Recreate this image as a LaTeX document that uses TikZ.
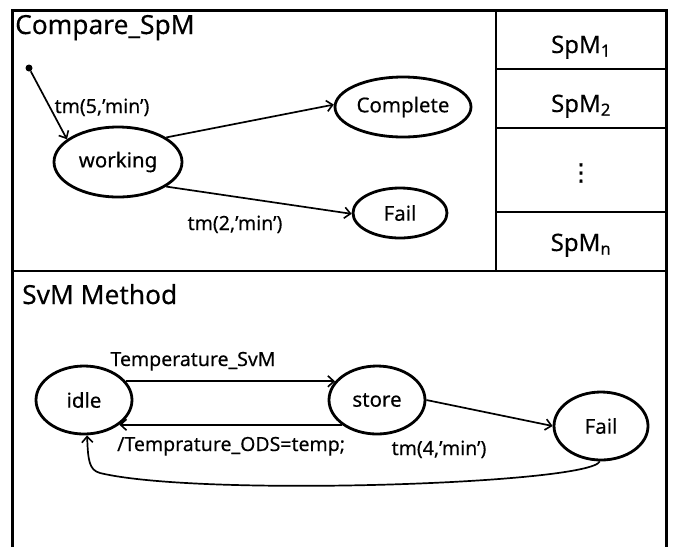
\documentclass[tikz,border=0pt]{standalone}
\usepackage{fontspec}
\setmainfont{Noto Sans}[FakeBold=0.3]
\newfontfamily\symfont{DejaVu Sans}[FakeBold=0.6]
\usetikzlibrary{arrows.meta,shapes.geometric}
\begin{document}
\begin{tikzpicture}[x=1pt,y=-1pt,
  st/.style={draw,ellipse,line width=2.8pt,inner sep=0pt,font=\fontsize{20.5}{24}\selectfont},
  lbl/.style={font=\fontsize{19.5}{23}\selectfont,inner sep=0pt,anchor=base},
  ttl/.style={font=\fontsize{26.3}{30}\selectfont,inner sep=0pt,anchor=base west},
  spm/.style={font=\fontsize{24}{28}\selectfont,inner sep=0pt,anchor=base},
  arr/.style={-{Straight Barb[length=6pt,width=11pt,line width=1.6pt]},line width=1.7pt},
  frame/.style={line width=3pt},
  divider/.style={line width=2.4pt}]
\useasboundingbox (0,0) rectangle (676,547);
% frame
\draw[frame] (12,547) -- (12,10) -- (666,10) -- (666,547);
\draw[divider] (12,271) -- (666,271);
\draw[divider] (496,10) -- (496,271);
\draw[divider] (496,69) -- (666,69);
\draw[divider] (496,128) -- (666,128);
\draw[divider] (496,212) -- (666,212);
% right column
\node[spm] (s1) at (581,53) {SpM\textsubscript{1}};
\node[spm] (s2) at (581,112) {SpM\textsubscript{2}};
\node[spm,anchor=center] (sd) at (581,173) {\symfont\fontsize{24}{28}\selectfont ⋮};
\node[spm] (sn) at (581,251) {SpM\textsubscript{n}};
% titles
\node[ttl] (t1) at (15,34) {Compare\_SpM};
\node[ttl] (t2) at (22,304) {SvM Method};
% top machine
\node[circle,fill,inner sep=0pt,minimum size=7pt] (init) at (29,68) {};
\node[st,minimum width=128pt,minimum height=70pt] (working) at (118,162) {working};
\node[st,minimum width=136pt,minimum height=60pt] (complete) at (403,107) {Complete};
\node[st,minimum width=94pt,minimum height=50pt] (fail1) at (400,213) {Fail};
\draw[arr] (init) -- (working.156);
\draw[arr] (working.27) -- (complete.178);
\draw[arr] (working.-27) -- (fail1.181);
\node[lbl] (l1) at (102,113) {tm(5,’min’)};
\node[lbl] (l2) at (235,230) {tm(2,’min’)};
% bottom machine
\node[st,minimum width=96pt,minimum height=68pt] (idle) at (84,400) {idle};
\node[st,minimum width=96pt,minimum height=68pt] (store) at (377,400) {store};
\node[st,minimum width=94pt,minimum height=68pt] (fail2) at (601,426) {Fail};
\draw[arr] (idle.24) -- (store.156);
\draw[arr] (store.-145) -- (idle.-35);
\draw[arr] (store.0) -- (fail2.180);
\draw[arr] (fail2.-92) .. controls (590,484) and (200,497) .. (100,473)
  .. controls (89,470) and (88,460) .. (idle.-85);
\node[lbl] (l3) at (193,366) {Temperature\_SvM};
\node[lbl,anchor=base west] (l4) at (117,451) {/Temprature\_ODS=temp;};
\node[lbl] (l5) at (439,455) {tm(4,’min’)};
\end{tikzpicture}
\end{document}
